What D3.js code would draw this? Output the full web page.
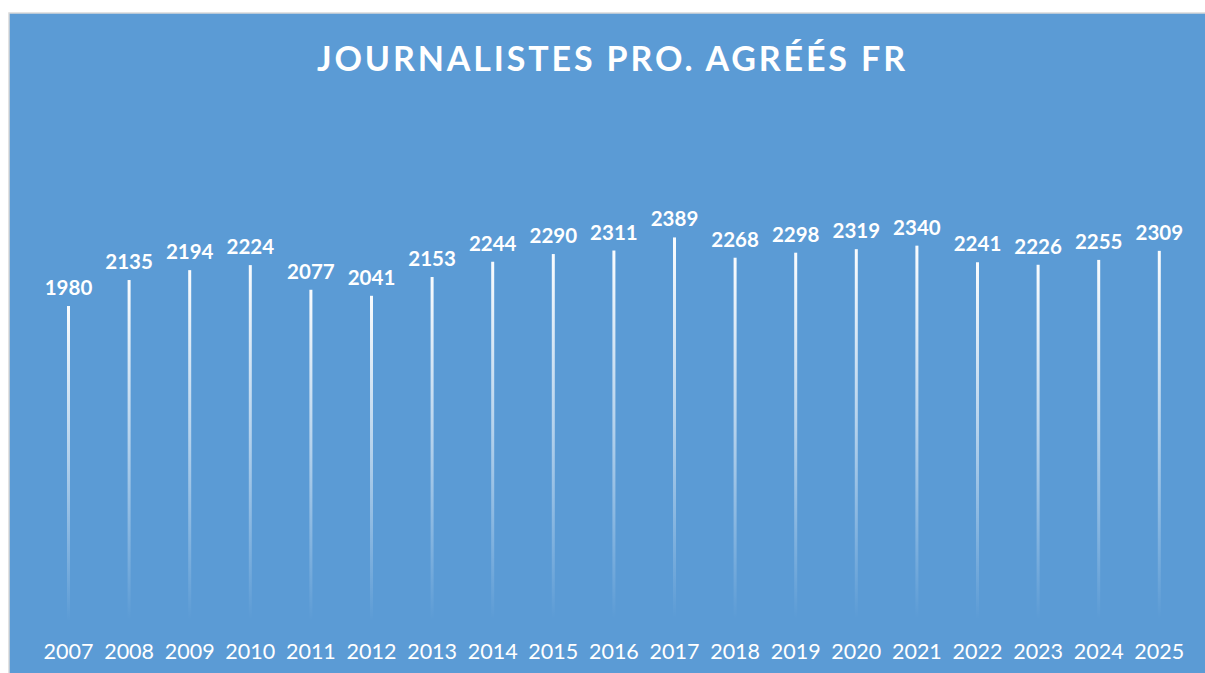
<!DOCTYPE html>
<html><head><meta charset="utf-8">
<script src="https://cdn.jsdelivr.net/npm/d3@7"></script>
<style>html,body{margin:0;padding:0;background:#fff;}svg{display:block;}</style>
</head><body>
<svg id="c" width="1205" height="673"></svg>
<script>
const years = ["2007","2008","2009","2010","2011","2012","2013","2014","2015","2016","2017","2018","2019","2020","2021","2022","2023","2024","2025"];
const values = [1980,2135,2194,2224,2077,2041,2153,2244,2290,2311,2389,2268,2298,2319,2340,2241,2226,2255,2309];
const titleText = "JOURNALISTES PRO. AGRÉÉS FR";

const svg = d3.select("#c");
svg.append("rect").attr("x",9).attr("y",13).attr("width",1205).attr("height",680)
  .attr("fill","#5B9BD5").attr("stroke","#D9D9D9").attr("stroke-width",1.5);

const defs = svg.append("defs");
const g = defs.append("linearGradient").attr("id","barGrad")
  .attr("x1",0).attr("y1",0).attr("x2",0).attr("y2",1);
g.append("stop").attr("offset","0%").attr("stop-color","#fff").attr("stop-opacity",0.97);
g.append("stop").attr("offset","45%").attr("stop-color","#fff").attr("stop-opacity",0.55);
g.append("stop").attr("offset","95%").attr("stop-color","#fff").attr("stop-opacity",0);

const x = d3.scaleBand().domain(years).range([38.2,1189.6]);
const y = d3.scaleLinear().domain([0,3000]).range([638,135]);
const bw = 3;

svg.append("text").attr("x",611).attr("y",70.5).attr("text-anchor","middle")
  .attr("fill","#fff").attr("font-family","Lato, 'Open Sans', sans-serif")
  .attr("font-weight","bold").attr("font-size",34)
  .attr("textLength",588).attr("lengthAdjust","spacing").text(titleText);

svg.append("g").selectAll("rect").data(values).join("rect")
  .attr("x",(d,i)=>x(years[i])+x.bandwidth()/2-bw/2)
  .attr("y",d=>y(d)).attr("width",bw).attr("height",d=>y(0)-y(d))
  .attr("fill","url(#barGrad)");

svg.append("g").selectAll("text").data(values).join("text")
  .attr("x",(d,i)=>x(years[i])+x.bandwidth()/2)
  .attr("y",d=>y(d)-11).attr("text-anchor","middle")
  .attr("fill","#fff").attr("font-family","Lato, sans-serif")
  .attr("font-weight","bold").attr("font-size",20.5).text(d=>d);

const ax = svg.append("g").attr("transform","translate(0,638)")
  .call(d3.axisBottom(x).tickSize(0).tickPadding(0));
ax.select(".domain").remove();
ax.selectAll("text").attr("y",21).attr("dy",0).attr("fill","#fff")
  .attr("font-family","Lato, sans-serif").attr("font-size",21.5);
</script>
</body></html>
